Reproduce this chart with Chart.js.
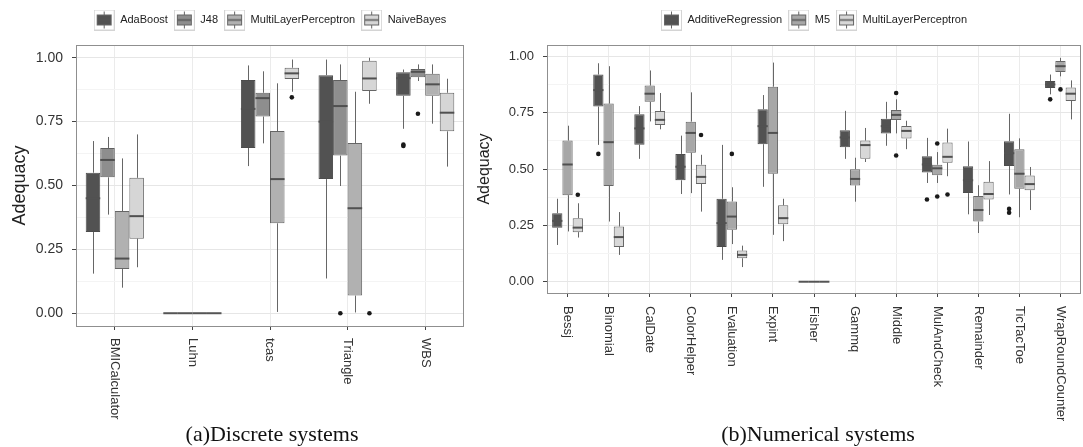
<!DOCTYPE html>
<html>
<head>
<meta charset="utf-8">
<script src="https://cdn.jsdelivr.net/npm/chart.js@4.4.1/dist/chart.umd.min.js"></script>
<style>
    body { margin: 0; background: #fff; width: 1083px; height: 447px; position: relative; overflow: hidden; }
    canvas { position: absolute; top: 0; }
    #left { left: 0; }
    #right { left: 465px; }
    .cap { position: absolute; top: 423px; line-height: 22px; transform: translateX(-50%); white-space: nowrap;
           font-family: "Liberation Serif", "Times New Roman", serif; font-size: 22px; color: #111; }
</style>
</head>
<body>
<canvas id="left" width="480" height="447"></canvas>
<canvas id="right" width="618" height="447"></canvas>
<div class="cap" style="left:272px">(a)Discrete systems</div>
<div class="cap" style="left:818px">(b)Numerical systems</div>

<script>
// y axis ticks (shared)
const yMajor = [0, 0.25, 0.5, 0.75, 1];
const yMinor = [0.125, 0.375, 0.625, 0.875];

// (a) discrete systems : [min, q1, median, q3, max]
const discreteSystems = ["BMICalculator", "Luhn", "tcas", "Triangle", "WBS"];
const adaBoost = [[0.155, 0.318, 0.45, 0.55, 0.674], [0, 0, 0, 0, 0], [0.576, 0.647, 0.80, 0.913, 0.97], [0.136, 0.525, 0.75, 0.932, 0.993], [0.722, 0.851, 0.92, 0.943, 0.954]];
const j48 = [[0.386, 0.532, 0.60, 0.647, 0.69], [0, 0, 0, 0, 0], [0.665, 0.77, 0.842, 0.863, 0.947], [0.498, 0.617, 0.811, 0.913, 0.974], [0.909, 0.924, 0.945, 0.956, 0.974]];
const mlpDiscrete = [[0.10, 0.173, 0.214, 0.40, 0.606], [0, 0, 0, 0, 0], [0.005, 0.352, 0.525, 0.713, 0.90], [0.003, 0.069, 0.411, 0.666, 0.867], [0.742, 0.851, 0.896, 0.937, 0.974]];
const naiveBayes = [[0.18, 0.292, 0.38, 0.53, 0.70], [0, 0, 0, 0, 0], [0.867, 0.917, 0.939, 0.961, 0.993], [0.82, 0.87, 0.919, 0.988, 1.0], [0.574, 0.712, 0.785, 0.863, 0.918]];
const adaBoostOut = [[], [], [], [], [0.66, 0.655]];
const j48Out = [[], [], [], [0], [0.781]];
const mlpDiscreteOut = [[], [], [], [], []];
const naiveBayesOut = [[], [], [0.845], [0], []];

// (b) numerical systems
const numericalSystems = ["Bessj", "Binomial", "CalDate", "ColorHelper", "Evaluation", "Expint", "Fisher", "Gammq", "Middle", "MulAndCheck", "Remainder", "TicTacToe", "WrapRoundCounter"];
const additiveRegression = [[0.163, 0.239, 0.27, 0.304, 0.368], [0.607, 0.777, 0.85, 0.919, 0.969], [0.545, 0.608, 0.68, 0.743, 0.779], [0.389, 0.45, 0.51, 0.567, 0.648], [0.097, 0.154, 0.26, 0.368, 0.607], [0.421, 0.61, 0.69, 0.765, 0.828], [0, 0, 0, 0, 0], [0.545, 0.597, 0.64, 0.672, 0.758], [0.603, 0.657, 0.69, 0.723, 0.798], [0.438, 0.484, 0.52, 0.556, 0.638], [0.299, 0.393, 0.45, 0.512, 0.622], [0.387, 0.513, 0.57, 0.623, 0.745], [0.831, 0.859, 0.875, 0.89, 0.919]];
const m5 = [[0.223, 0.384, 0.52, 0.626, 0.692], [0.267, 0.425, 0.619, 0.79, 0.956], [0.711, 0.798, 0.834, 0.87, 0.937], [0.393, 0.572, 0.66, 0.71, 0.84], [0.167, 0.23, 0.289, 0.356, 0.419], [0.208, 0.479, 0.66, 0.865, 0.972], [0, 0, 0, 0, 0], [0.355, 0.427, 0.456, 0.499, 0.55], [0.658, 0.717, 0.74, 0.762, 0.809], [0.438, 0.472, 0.503, 0.519, 0.575], [0.216, 0.267, 0.318, 0.38, 0.428], [0.286, 0.412, 0.479, 0.588, 0.636], [0.911, 0.93, 0.956, 0.979, 0.993]];
const mlpNumerical = [[0.196, 0.22, 0.24, 0.282, 0.348], [0.119, 0.154, 0.198, 0.245, 0.309], [0.676, 0.695, 0.718, 0.757, 0.837], [0.311, 0.434, 0.465, 0.519, 0.563], [0.065, 0.104, 0.119, 0.138, 0.16], [0.18, 0.255, 0.282, 0.339, 0.368], [0, 0, 0, 0, 0], [0.531, 0.545, 0.606, 0.626, 0.682], [0.588, 0.635, 0.669, 0.691, 0.714], [0.468, 0.528, 0.554, 0.617, 0.679], [0.296, 0.365, 0.389, 0.443, 0.535], [0.318, 0.406, 0.433, 0.471, 0.509], [0.72, 0.802, 0.834, 0.861, 0.893]];
const additiveRegressionOut = [[], [0.567], [], [], [], [], [], [], [], [0.365], [], [0.323, 0.306], [0.809]];
const m5Out = [[], [], [], [], [0.567], [], [], [], [0.837, 0.56], [0.613, 0.378], [], [], [0.853]];
const mlpNumericalOut = [[0.386], [], [], [0.651], [], [], [], [], [], [0.387], [], [], []];


// little boxplot glyph for the legend keys
function keyGlyph(fill) {
    const c = document.createElement("canvas");
    c.width = 21; c.height = 21;
    const g = c.getContext("2d");
    g.fillStyle = "#fff";
    g.fillRect(0, 0, 21, 21);
    g.strokeStyle = "#d4d4d4";
    g.strokeRect(0.5, 0.5, 20, 20);
    g.strokeStyle = "#666";
    g.beginPath();
    g.moveTo(10.5, 2); g.lineTo(10.5, 19);
    g.stroke();
    g.fillStyle = fill;
    g.fillRect(3, 5, 15, 11);
    g.strokeRect(3.5, 5.5, 14, 10);
    g.lineWidth = 1.5;
    g.strokeStyle = "#555";
    g.beginPath();
    g.moveTo(4, 10.5); g.lineTo(17, 10.5);
    g.stroke();
    return c;
}

// whiskers, medians, outliers, panel border and rotated category labels
const boxPlugin = {
    id: "boxplot",
    afterLayout(chart, args, opts) {
        chart.legend.top -= opts.legendShift;
        chart.legend.bottom -= opts.legendShift;
    },
    afterDatasetsDraw(chart) {
        const ctx = chart.ctx;
        const y = chart.scales.y;
        chart.data.datasets.forEach((ds, di) => {
            chart.getDatasetMeta(di).data.forEach((bar, i) => {
                const s = ds.stats[i];
                const x = Math.round(bar.x) + 0.5;
                const half = bar.width / 2;
                ctx.save();
                ctx.strokeStyle = "#666";
                ctx.lineWidth = 1;
                ctx.beginPath();
                ctx.moveTo(x, y.getPixelForValue(s[3]));
                ctx.lineTo(x, y.getPixelForValue(s[4]));
                ctx.moveTo(x, y.getPixelForValue(s[1]));
                ctx.lineTo(x, y.getPixelForValue(s[0]));
                ctx.stroke();
                ctx.strokeStyle = s[1] === s[3] ? "#555" : ds.medianColor;
                ctx.lineWidth = 2;
                ctx.beginPath();
                const ym = y.getPixelForValue(s[2]);
                ctx.moveTo(bar.x - half, ym);
                ctx.lineTo(bar.x + half, ym);
                ctx.stroke();
                ctx.fillStyle = "#1a1a1a";
                ds.outliers[i].forEach(v => {
                    ctx.beginPath();
                    ctx.arc(bar.x, y.getPixelForValue(v), 2.3, 0, Math.PI * 2);
                    ctx.fill();
                });
                ctx.restore();
            });
        });
    },
    afterDraw(chart, args, opts) {
        const ctx = chart.ctx;
        const a = chart.chartArea;
        ctx.save();
        ctx.strokeStyle = "#8f8f8f";
        ctx.lineWidth = 1;
        ctx.strokeRect(Math.round(a.left) + 0.5, Math.round(a.top) + 0.5, Math.round(a.right - a.left) - 1, Math.round(a.bottom - a.top));
        const xs = chart.scales.x;
        ctx.font = "13px 'Liberation Sans', Arial, sans-serif";
        ctx.fillStyle = "#333";
        ctx.textAlign = "left";
        ctx.textBaseline = "middle";
        chart.data.labels.forEach((lab, i) => {
            ctx.save();
            ctx.translate(xs.getPixelForTick(i), a.bottom + opts.labelGap);
            ctx.rotate(Math.PI / 2);
            ctx.fillText(lab, 0, 0);
            ctx.restore();
        });
        ctx.restore();
    }
};

function makeChart(id, labels, series, cfg) {
    const datasets = series.map(s => ({
        label: s.name,
        data: s.stats.map(v => [v[1], v[3]]),
        stats: s.stats,
        outliers: s.out,
        medianColor: s.median,
        backgroundColor: s.fill,
        borderColor: s.border,
        borderWidth: 1,
        borderSkipped: false,
        barPercentage: 1,
        categoryPercentage: 0.75
    }));

    return new Chart(document.getElementById(id), {
        type: "bar",
        data: { labels: labels, datasets: datasets },
        plugins: [boxPlugin],
        options: {
            responsive: false,
            animation: false,
            devicePixelRatio: 1,
            font: { family: "'Liberation Sans', Arial, sans-serif" },
            layout: { padding: { top: 18, right: cfg.padRight, bottom: cfg.padBottom, left: 0 } },
            plugins: {
                boxplot: { labelGap: cfg.labelGap, legendShift: 9.5 },
                tooltip: { enabled: false },
                legend: {
                    position: "top",
                    fullSize: false,
                    labels: {
                        usePointStyle: true,
                        pointStyleWidth: 21,
                        padding: 6,
                        color: "#222",
                        font: { size: 11 },
                        generateLabels: ch => ch.data.datasets.map((ds, i) => ({
                            text: ds.label,
                            pointStyle: keyGlyph(ds.backgroundColor),
                            datasetIndex: i,
                            hidden: false,
                            lineWidth: 0,
                            fontColor: "#222"
                        }))
                    }
                }
            },
            scales: {
                x: {
                    ticks: { display: false },
                    grid: { offset: false, color: "#ebebeb", tickLength: 4, tickColor: "#444" },
                    border: { display: false }
                },
                y: {
                    min: -0.05,
                    max: 1.05,
                    afterBuildTicks: s => { s.ticks = yMajor.concat(yMinor).sort((p, q) => p - q).map(v => ({ value: v })); },
                    afterFit: s => { s.width = cfg.axisWidth; },
                    ticks: {
                        padding: 9,
                        color: "#333",
                        font: { size: cfg.tickSize },
                        callback: v => yMajor.includes(v) ? v.toFixed(2) : ""
                    },
                    grid: {
                        tickLength: 4,
                        color: c => yMajor.includes(c.tick.value) ? "#e6e6e6" : "#f4f4f4",
                        tickColor: c => yMajor.includes(c.tick.value) ? "#444" : "rgba(0,0,0,0)"
                    },
                    border: { display: false },
                    title: { display: true, text: "Adequacy", color: "#222", font: { size: cfg.titleSize }, padding: cfg.titlePad }
                }
            }
        }
    });
}

makeChart("left", discreteSystems, [
    { name: "AdaBoost", stats: adaBoost, out: adaBoostOut, fill: "#525252", border: "#4c4c4c", median: "#525252" },
    { name: "J48", stats: j48, out: j48Out, fill: "#8e8e8e", border: "#606060", median: "#505050" },
    { name: "MultiLayerPerceptron", stats: mlpDiscrete, out: mlpDiscreteOut, fill: "#b1b1b1", border: "#666", median: "#505050" },
    { name: "NaiveBayes", stats: naiveBayes, out: naiveBayesOut, fill: "#d6d6d6", border: "#666", median: "#505050" }
], { padRight: 16, padBottom: 117, labelGap: 12, axisWidth: 76, tickSize: 14, titleSize: 18, titlePad: 9 });

makeChart("right", numericalSystems, [
    { name: "AdditiveRegression", stats: additiveRegression, out: additiveRegressionOut, fill: "#525252", border: "#4c4c4c", median: "#525252" },
    { name: "M5", stats: m5, out: m5Out, fill: "#a7a7a7", border: "#666", median: "#505050" },
    { name: "MultiLayerPerceptron", stats: mlpNumerical, out: mlpNumericalOut, fill: "#d8d8d8", border: "#666", median: "#505050" }
], { padRight: 2, padBottom: 150, labelGap: 13, axisWidth: 82, tickSize: 13, titleSize: 16, titlePad: 10 });
</script>
</body>
</html>
